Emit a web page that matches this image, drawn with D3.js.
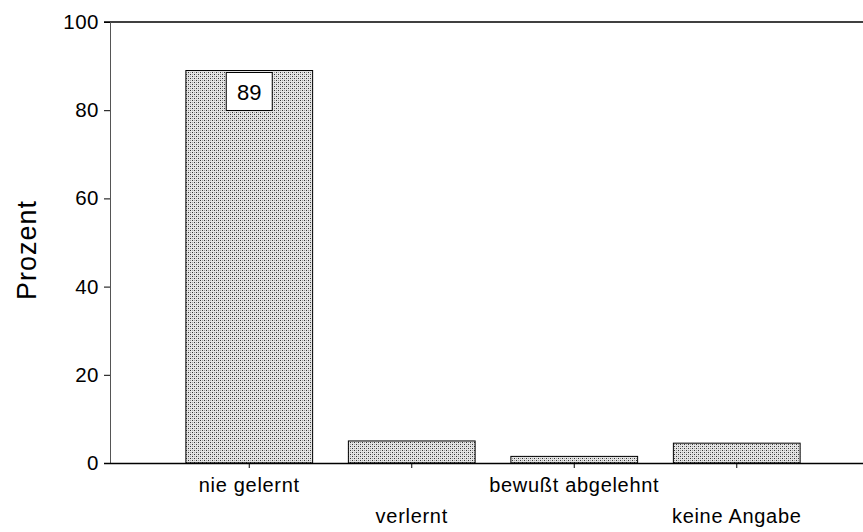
<!DOCTYPE html>
<html lang="de">
<head>
  <meta charset="UTF-8">
  <title>Prozent</title>
  <style>
    body { margin: 0; padding: 0; background: #fff; }
    svg text { font-family: "Liberation Sans", Arial, sans-serif; fill: #000; }
  </style>
  <script src="https://d3js.org/d3.v7.min.js"></script>
</head>
<body>
  <div id="chart"></div>
  <script>
    const categories = ["nie gelernt", "verlernt", "bewußt abgelehnt", "keine Angabe"];
    const values = [89, 5, 1.5, 4.5];
    const yTicks = [0, 20, 40, 60, 80, 100];
    const labelledValue = 89;

    const width = 863;
    const height = 532;

    const svg = d3.select("#chart").append("svg")
      .attr("width", width)
      .attr("height", height);

    // stipple pattern for the bars
    const pat = svg.append("defs").append("pattern")
      .attr("id", "dots")
      .attr("patternUnits", "userSpaceOnUse")
      .attr("width", 4).attr("height", 4);
    pat.append("rect").attr("width", 4).attr("height", 4).attr("fill", "#e4e4e4");
    [[0, 0, "#333"], [2, 2, "#333"], [2, 0, "#a0a0a0"], [0, 2, "#a0a0a0"]].forEach(p => {
      pat.append("rect").attr("x", p[0]).attr("y", p[1]).attr("width", 1).attr("height", 1).attr("fill", p[2]);
    });

    const x = d3.scaleBand()
      .domain(categories)
      .range([168, 818])
      .paddingInner(0.22)
      .paddingOuter(0.11);

    const y = d3.scaleLinear()
      .domain([0, 100])
      .range([463, 22]);

    // top frame line
    svg.append("line")
      .attr("x1", 104).attr("x2", 863)
      .attr("y1", y(100)).attr("y2", y(100))
      .attr("stroke", "#000").attr("stroke-width", 1.3);

    // bars
    svg.selectAll(".bar")
      .data(values)
      .enter()
      .append("rect")
      .attr("class", "bar")
      .attr("x", (d, i) => x(categories[i]))
      .attr("width", x.bandwidth())
      .attr("y", d => y(d))
      .attr("height", d => y(0) - y(d))
      .attr("fill", "url(#dots)")
      .attr("stroke", "#000")
      .attr("stroke-width", 1);

    // y axis
    const yAxis = svg.append("g")
      .attr("transform", "translate(110,0)")
      .call(d3.axisLeft(y).tickValues(yTicks).tickSize(6).tickPadding(5));
    yAxis.select(".domain").attr("stroke", "#555");
    yAxis.selectAll("text").style("font-size", "20.5px").style("letter-spacing", "0.5px");

    // x axis
    const xAxis = svg.append("g")
      .attr("transform", `translate(0,${y(0)})`)
      .call(d3.axisBottom(x).tickSize(5).tickSizeOuter(0));
    xAxis.select(".domain").attr("d", `M104,0.5H863`).attr("stroke", "#000").attr("stroke-width", 1.3);
    xAxis.selectAll(".tick text")
      .style("font-size", "20px")
      .style("letter-spacing", "0.7px")
      .attr("dy", null)
      .attr("y", (d, i) => i % 2 === 0 ? 29 : 60);

    // value label on the first bar
    const lx = x(categories[0]) + x.bandwidth() / 2;
    svg.append("rect")
      .attr("x", lx - 23).attr("y", y(labelledValue) + 2)
      .attr("width", 46).attr("height", 38)
      .attr("fill", "#fff").attr("stroke", "#000");
    svg.append("text")
      .attr("x", lx).attr("y", y(labelledValue) + 29)
      .attr("text-anchor", "middle")
      .style("font-size", "22px")
      .text(labelledValue);

    // y title
    svg.append("text")
      .attr("transform", "translate(36,250) rotate(-90)")
      .attr("text-anchor", "middle")
      .style("font-size", "27px")
      .style("letter-spacing", "1px")
      .text("Prozent");
  </script>
</body>
</html>
